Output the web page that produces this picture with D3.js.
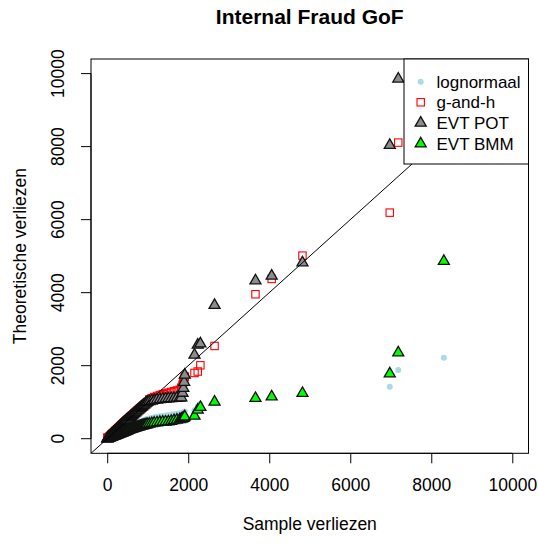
<!DOCTYPE html>
<html>
<head>
<meta charset="utf-8">
<script src="https://cdn.jsdelivr.net/npm/d3@7"></script>
<style>
  html, body { margin: 0; padding: 0; background: #fff; }
  svg { display: block; font-family: "Liberation Sans", Arial, Helvetica, sans-serif; }
</style>
</head>
<body>
<svg id="chart" width="538" height="544"></svg>
<script>
// Sorted sample losses and the matching theoretical quantiles per fitted model
const sampleLoss = [4, 14, 26, 38, 50, 62, 74, 86, 98, 110,
  122, 134, 146, 158, 170, 182, 194, 206, 218, 230,
  242, 254, 266, 278, 290, 302, 314, 326, 338, 350,
  362, 374, 386, 398, 410, 422, 434, 446, 458, 470,
  482, 494,
  515, 540, 565, 590, 615, 640, 665, 690, 715, 740,
  765, 790, 815, 840, 865, 890, 915, 940, 965, 990,
  1040, 1100, 1160, 1230, 1300, 1370, 1440, 1510, 1580, 1650, 1720, 1790,
  1830, 1860, 1880, 1900, 1915,
  2155, 2235, 2300, 2650, 3660, 4060, 4820, 6975, 7185, 8310];
const lognormaal = [2, 8, 14, 21, 28, 34, 41, 47, 54, 61,
  67, 74, 80, 87, 94, 100, 107, 113, 120, 127,
  133, 140, 146, 153, 160, 166, 173, 179, 186, 193,
  199, 206, 212, 219, 226, 232, 239, 245, 252, 259,
  265, 272,
  283, 297, 311, 325, 338, 352, 366, 380, 393, 407,
  421, 435, 448, 462, 476, 490, 503, 517, 531, 540,
  555, 570, 585, 600, 612, 624, 636, 648, 660, 670, 680, 690,
  696, 702, 715, 730, 745,
  780, 880, 950, 1040, 1120, 1160, 1230, 1425, 1882, 2219];
const gAndH = [30, 12, 23, 36, 49, 61, 74, 86, 99, 112,
  124, 137, 149, 162, 175, 187, 200, 212, 225, 238,
  250, 263, 275, 288, 301, 313, 326, 338, 351, 364,
  376, 389, 401, 414, 427, 439, 452, 464, 477, 490,
  502, 515,
  536, 562, 587, 612, 637, 662, 687, 712, 736, 761,
  785, 810, 834, 858, 882, 905, 929, 952, 975, 1000,
  1075, 1110, 1140, 1170, 1195, 1220, 1240, 1260, 1280, 1300, 1320, 1340,
  1400, 1480, 1550, 1630, 1700,
  1800, 1840, 2010, 2540, 3956, 4375, 5014, 6192, 8110, 12000];
const evtPot = [4, 15, 27, 40, 53, 65, 78, 90, 103, 116,
  128, 141, 153, 166, 179, 191, 204, 216, 229, 242,
  254, 267, 279, 292, 305, 317, 330, 342, 355, 368,
  380, 393, 405, 418, 431, 443, 456, 468, 481, 494,
  506, 519,
  540, 566, 591, 616, 641, 666, 691, 716, 740, 765,
  789, 814, 838, 862, 886, 909, 933, 956, 979, 1000,
  1020, 1038, 1052, 1064, 1075, 1084, 1092, 1099, 1105, 1110, 1115, 1120,
  1125, 1250, 1381, 1550, 1745,
  2293, 2567, 2600, 3655, 4329, 4458, 4822, 8038, 9855, 14000];
const evtBmm = [2, 6, 12, 17, 22, 28, 33, 39, 44, 50,
  55, 60, 66, 71, 77, 82, 87, 93, 98, 104,
  109, 114, 120, 125, 131, 136, 141, 147, 152, 158,
  163, 168, 174, 179, 185, 190, 195, 201, 206, 212,
  217, 222,
  231, 241, 251, 260, 270, 279, 288, 297, 306, 315,
  323, 332, 340, 348, 356, 364, 372, 380, 387, 394,
  405, 418, 430, 441, 450, 458, 462, 466, 480, 500, 512, 525,
  540, 552, 560, 580, 603,
  622, 786, 860, 1005, 1107, 1151, 1244, 1781, 2356, 4860];

const xTicks = [0, 2000, 4000, 6000, 8000, 10000];
const yTicks = [0, 2000, 4000, 6000, 8000, 10000];
const seriesNames = ["lognormaal", "g-and-h", "EVT POT", "EVT BMM"];

const svg = d3.select("#chart");
const W = 538, H = 544;
const plot = { left: 91, right: 528.5, top: 59, bottom: 453.3 };
const fontPx = 17.5;

const x = d3.scaleLinear().domain([-400, 10400]).range([plot.left, plot.right]);
const y = d3.scaleLinear().domain([-400, 10400]).range([plot.bottom, plot.top]);

svg.append("rect").attr("width", W).attr("height", H).attr("fill", "#fff");

svg.append("defs").append("clipPath").attr("id", "plotclip")
  .append("rect")
  .attr("x", plot.left).attr("y", plot.top)
  .attr("width", plot.right - plot.left).attr("height", plot.bottom - plot.top);

// Marker shapes: filled triangle (point-up) and open square
const triHalfW = 5.5, triR = triHalfW / 0.866, triYc = triR / 2;
function triangle(cx, cy) {
  return `M${cx},${cy - triR}L${cx + triHalfW},${cy + triYc}L${cx - triHalfW},${cy + triYc}Z`;
}
const sqHalf = 3.7;
const potFill = "#8c8c8c", bmmFill = "#00FF00", edge = "#111", edgeW = 1.3;

const pts = svg.append("g").attr("clip-path", "url(#plotclip)");
const idx = d3.range(sampleLoss.length);

pts.append("g").selectAll("circle").data(idx).join("circle")
  .attr("cx", i => x(sampleLoss[i])).attr("cy", i => y(lognormaal[i]))
  .attr("r", 3).attr("fill", "#ADD8E6");

pts.append("g").selectAll("rect").data(idx).join("rect")
  .attr("x", i => x(sampleLoss[i]) - sqHalf).attr("y", i => y(gAndH[i]) - sqHalf)
  .attr("width", sqHalf * 2).attr("height", sqHalf * 2)
  .attr("fill", "none").attr("stroke", "#FF0000").attr("stroke-width", 1.1);

pts.append("g").selectAll("path").data(idx).join("path")
  .attr("d", i => triangle(x(sampleLoss[i]), y(evtPot[i])))
  .attr("fill", potFill).attr("stroke", edge).attr("stroke-width", edgeW);

pts.append("g").selectAll("path").data(idx).join("path")
  .attr("d", i => triangle(x(sampleLoss[i]), y(evtBmm[i])))
  .attr("fill", bmmFill).attr("stroke", edge).attr("stroke-width", edgeW);

// Reference line y = x
pts.append("line")
  .attr("x1", x(-400)).attr("y1", y(-400))
  .attr("x2", x(10400)).attr("y2", y(10400))
  .attr("stroke", "#000").attr("stroke-width", 1);

// Plot frame
svg.append("rect")
  .attr("x", plot.left).attr("y", plot.top)
  .attr("width", plot.right - plot.left).attr("height", plot.bottom - plot.top)
  .attr("fill", "none").attr("stroke", "#000").attr("stroke-width", 1);

// Axes
const tickLen = 10;
const xAxis = d3.axisBottom(x).tickValues(xTicks).tickSize(tickLen).tickPadding(15).tickFormat(d3.format("d"));
const gx = svg.append("g").attr("transform", `translate(0,${plot.bottom})`).call(xAxis);
gx.select(".domain").attr("d", `M${x(0)},0H${x(10000)}`);
gx.selectAll("text").attr("font-size", fontPx).attr("font-family", "Liberation Sans, Arial, sans-serif").attr("fill", "#000");

const yAxis = d3.axisLeft(y).tickValues(yTicks).tickSize(tickLen).tickFormat(d3.format("d"));
const gy = svg.append("g").attr("transform", `translate(${plot.left},0)`).call(yAxis);
gy.select(".domain").attr("d", `M0,${y(0)}V${y(10000)}`);
gy.selectAll("text")
  .attr("font-size", fontPx).attr("font-family", "Liberation Sans, Arial, sans-serif").attr("fill", "#000")
  .attr("x", null).attr("dy", null)
  .attr("text-anchor", "middle")
  .attr("transform", d => `translate(-27,${y(d)}) rotate(-90)`)
  .attr("y", 0);
gy.selectAll(".tick").attr("transform", null);
gy.selectAll(".tick line").attr("transform", d => `translate(0,${y(d)})`);

// Titles
svg.append("text").attr("x", (plot.left + plot.right) / 2).attr("y", 24)
  .attr("text-anchor", "middle").attr("font-weight", "bold").attr("font-size", 21)
  .text("Internal Fraud GoF");
svg.append("text").attr("x", (plot.left + plot.right) / 2).attr("y", 530)
  .attr("text-anchor", "middle").attr("font-size", fontPx)
  .text("Sample verliezen");
svg.append("text")
  .attr("transform", `translate(26,${(plot.top + plot.bottom) / 2}) rotate(-90)`)
  .attr("text-anchor", "middle").attr("font-size", fontPx)
  .text("Theoretische verliezen");

// Legend
const lg = svg.append("g");
lg.append("rect").attr("x", 404).attr("y", plot.top).attr("width", plot.right - 404).attr("height", 164 - plot.top)
  .attr("fill", "#fff").attr("stroke", "#000").attr("stroke-width", 1);
const legendY = [81.7, 102.3, 123, 143.7];
const symX = 420.7;
lg.append("circle").attr("cx", symX).attr("cy", legendY[0]).attr("r", 3).attr("fill", "#ADD8E6");
lg.append("rect").attr("x", symX - sqHalf).attr("y", legendY[1] - sqHalf).attr("width", sqHalf * 2).attr("height", sqHalf * 2)
  .attr("fill", "none").attr("stroke", "#FF0000").attr("stroke-width", 1.1);
lg.append("path").attr("d", triangle(symX, legendY[2])).attr("fill", potFill).attr("stroke", edge).attr("stroke-width", edgeW);
lg.append("path").attr("d", triangle(symX, legendY[3])).attr("fill", bmmFill).attr("stroke", edge).attr("stroke-width", edgeW);
lg.selectAll("text.lab").data(seriesNames).join("text").attr("class", "lab")
  .attr("x", 436.5).attr("y", (d, i) => legendY[i] + 6)
  .attr("font-size", 17).text(d => d);
</script>
</body>
</html>
